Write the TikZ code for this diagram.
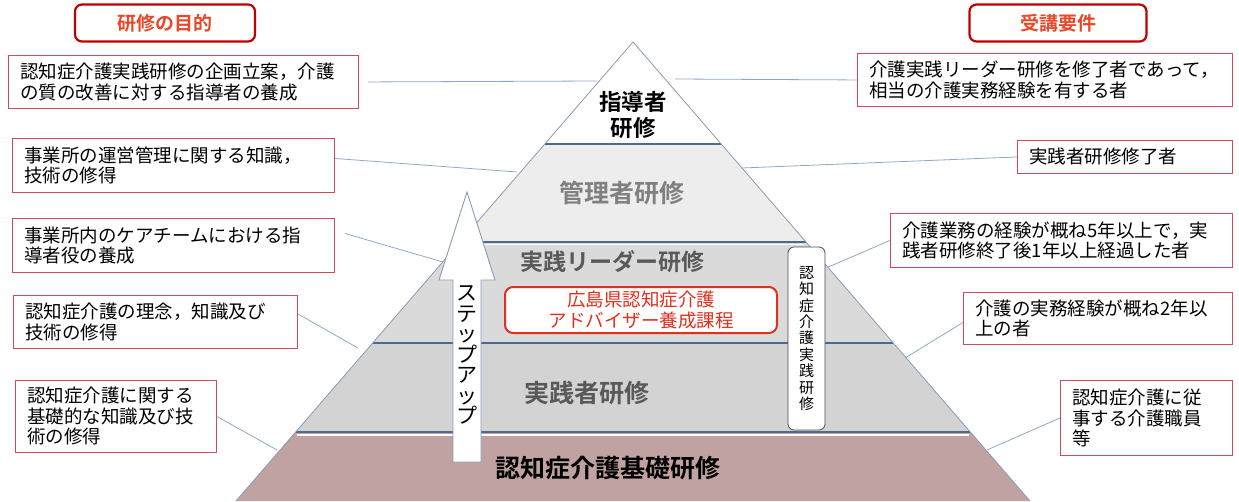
\documentclass[tikz,border=0pt]{standalone}
\usepackage{fontspec}
\setmainfont{Noto Sans CJK JP}[BoldFont={Noto Sans CJK JP Bold}]
\definecolor{boxred}{HTML}{D04A5A}
\definecolor{hdrred}{HTML}{C00000}
\definecolor{hdrtxt}{HTML}{E8482A}
\definecolor{conn}{HTML}{8FA8C8}
\definecolor{sidec}{HTML}{8A9BB5}
\definecolor{bound}{HTML}{4A6B8C}
\definecolor{layA}{HTML}{EDEDED}
\definecolor{layB}{HTML}{DADADA}
\definecolor{layC}{HTML}{D3D3D3}
\definecolor{layD}{HTML}{BFA2A1}
\definecolor{graytxt}{HTML}{808080}
\definecolor{dgraytxt}{HTML}{595959}
\definecolor{advred}{HTML}{E0301E}
\begin{document}
\begin{tikzpicture}[x=1pt,y=-1pt,
  infobox/.style={draw=boxred, fill=white, line width=0.9pt, inner xsep=12pt, inner ysep=0pt,
    align=left, anchor=north west, font=\fontsize{18.5}{20.5}\selectfont},
  hdrbox/.style={draw=hdrred, fill=white, line width=2.2pt, rounded corners=7pt,
    minimum width=180pt, minimum height=37pt, text=hdrtxt, font=\fontsize{19}{20}\selectfont\bfseries},
  connector/.style={draw=conn, line width=0.8pt},
  laylabel/.style={font=\fontsize{25}{28}\selectfont\bfseries},
  boundline/.style={draw=bound, line width=1.4pt},
  sideline/.style={draw=sidec, line width=0.8pt}]
\useasboundingbox (0,0) rectangle (1239,501);
\fill[white] (0,0) rectangle (1239,501);

% header boxes
\node[hdrbox] (h1) at (165,23) {研修の目的};
\node[hdrbox, minimum width=177pt] (h2) at (1058,23) {受講要件};

% left boxes
\node[infobox, text width=326pt, minimum height=53pt] (l1) at (8,55) {認知症介護実践研修の企画立案，介護\\の質の改善に対する指導者の養成};
\node[infobox, text width=298pt, minimum height=54pt] (l2) at (12,138) {事業所の運営管理に関する知識，\\技術の修得};
\node[infobox, text width=298pt, minimum height=54pt] (l3) at (12,218) {事業所内のケアチームにおける指\\導者役の養成};
\node[infobox, text width=260pt, minimum height=53pt] (l4) at (13,295) {認知症介護の理念，知識及び\\技術の修得};
\node[infobox, text width=177pt, minimum height=72pt] (l5) at (15,380) {認知症介護に関する\\基礎的な知識及び技\\術の修得};

% right boxes
\node[infobox, text width=351pt, minimum height=53pt] (r1) at (857,53) {介護実践リーダー研修を修了者であって，\\相当の介護実務経験を有する者};
\node[infobox, text width=191pt, minimum height=33pt] (r2) at (1017,140) {実践者研修修了者};
\node[infobox, text width=318pt, minimum height=54pt] (r3) at (890,213) {介護業務の経験が概ね5年以上で，実\\践者研修終了後1年以上経過した者};
\node[infobox, text width=245pt, minimum height=52pt] (r4) at (963,292) {介護の実務経験が概ね2年以\\上の者};
\node[infobox, text width=148pt, minimum height=75pt] (r5) at (1060,380) {認知症介護に従\\事する介護職員\\等};

% connector end points
\coordinate (e1) at (597,81);
\coordinate (e2) at (517,172);
\coordinate (e3) at (443,262);
\coordinate (e4) at (358,348);
\coordinate (e5) at (277,450);
\coordinate (f1) at (675,79);
\coordinate (f2) at (742,168);
\coordinate (f3) at (826,268);
\coordinate (f4) at (905,358);
\coordinate (f5) at (987,450);

\draw[connector] ([xshift=9pt]l1.east) -- (e1);
\draw[connector] ([yshift=7pt]l2.east) -- (e2);
\draw[connector] ([shift={(10,-12)}]l3.east) -- (e3);
\draw[connector] ([yshift=8pt]l4.east) -- (e4);
\draw[connector] (l5.east) -- (e5);
\draw[connector] (r1.west) -- (f1);
\draw[connector] (r2.west) -- (f2);
\draw[connector] (r3.west) -- (f3);
\draw[connector] ([yshift=-4pt]r4.west) -- (f4);
\draw[connector] (r5.west) -- (f5);

% pyramid layers
\fill[white] (633,42) -- (721.2,144) -- (544.8,144) -- cycle;
\fill[layA] (544.8,144) -- (721.2,144) -- (806,242) -- (460,242) -- cycle;
\fill[layB] (460,242) -- (806,242) -- (893.4,343) -- (372.6,343) -- cycle;
\fill[layC] (372.6,343) -- (893.4,343) -- (970.4,432) -- (295.6,432) -- cycle;
\fill[layD] (295.6,432) -- (970.4,432) -- (1030,501) -- (236,501) -- cycle;
\draw[boundline] (544.8,144) -- (721.2,144);
\draw[boundline] (460,242) -- (806,242);
\draw[white, line width=1.2pt] (462,244.5) -- (804,244.5);
\draw[boundline] (372.6,343) -- (893.4,343);
\draw[boundline] (295.6,432) -- (970.4,432);
\draw[white, line width=1.6pt] (297,434.8) -- (969,434.8);
\draw[sideline] (236,501) -- (633,42) -- (1030,501);

% pyramid labels
\node[font=\fontsize{22.5}{26}\selectfont\bfseries, align=center] (t1) at (633,115) {指導者\\研修};
\node[laylabel, text=graytxt] (t2) at (622,193) {管理者研修};
\node[laylabel, text=dgraytxt, font=\fontsize{23}{26}\selectfont\bfseries] (t3) at (612,262) {実践リーダー研修};
\node[draw=advred, line width=2pt, rounded corners=8pt, fill=white, minimum width=272pt, minimum height=46pt,
  align=center, text=advred, font=\fontsize{18.5}{21}\selectfont] (adv) at (641,310) {広島県認知症介護\\アドバイザー養成課程};
\node[laylabel, text=dgraytxt] (t4) at (587,393) {実践者研修};
\node[laylabel, text=black] (t5) at (608,468) {認知症介護基礎研修};

% vertical box
\node[draw=black!70, line width=0.8pt, rounded corners=6pt, fill=white, minimum width=37pt, minimum height=183pt,
  inner sep=0pt, align=center, font=\fontsize{15}{16.4}\selectfont] (vb) at (806.5,338.5) {認\\知\\症\\介\\護\\実\\践\\研\\修};

% step-up arrow
\draw[draw=sidec, line width=0.9pt, fill=white] (453,462) -- (453,280) -- (439,280) -- (467,192) -- (495,280) -- (481,280) -- (481,462) -- cycle;
\node[align=center, inner sep=0pt, font=\fontsize{21}{20.5}\selectfont] (step) at (467,355) {ス\\テ\\ッ\\プ\\ア\\ッ\\プ};
\end{tikzpicture}
\end{document}
